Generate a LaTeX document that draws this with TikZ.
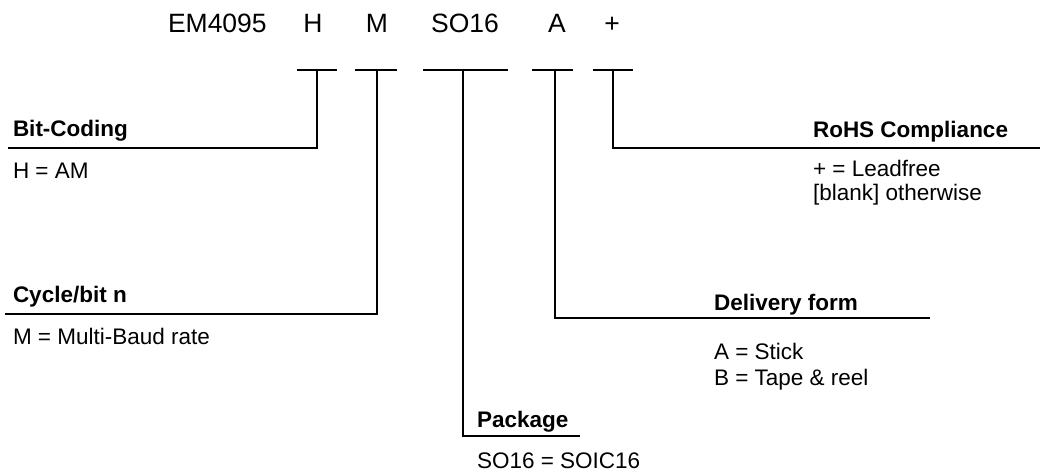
\documentclass[tikz,border=0pt]{standalone}
\usepackage{fontspec}
\setmainfont{Liberation Sans}
\usepackage{tikz}
\newcommand{\tx}        {\fontsize{22.5}{26}\selectfont}
\newcommand{\hd}        {\fontsize{26.5}{30}\selectfont}

\begin{document}
\begin{tikzpicture}[x=1pt,y=-1pt,line width=2pt,every node/.style={inner sep=0pt}]
     \useasboundingbox (0,0) rectangle (1057,474);
     % part number
     \draw(167,32) node[anchor=base west](em){\hd EM4095};
     \draw(313,32) node[anchor=base](ph){\hd H};
     \draw(377,32) node[anchor=base](pm){\hd M};
     \draw(465,32) node[anchor=base](pso){\hd SO16};
     \draw(557,32) node[anchor=base](pa){\hd A};
     \draw(612,32) node[anchor=base](pp){\hd +};
     % tee bars
     \coordinate (hb) at (317,70);
     \coordinate (mb) at (377,70);
     \coordinate (sb) at (463,70);
     \coordinate (ab) at (555,70);
     \coordinate (pb) at (613,70);
     \draw (297,70) -- (337,70);
     \draw (355,70) -- (397,70);
     \draw (423,70) -- (508,70);
     \draw (532,70) -- (573,70);
     \draw (593,70) -- (633,70);
     % label lines
     \coordinate (hl) at (8,148);
     \coordinate (ml) at (5,314);
     \coordinate (sl) at (580,436);
     \coordinate (al) at (930,318);
     \coordinate (pl) at (1040,148);
     \draw (hb) -- (hb |- hl) -- (hl);
     \draw (mb) -- (mb |- ml) -- (ml);
     \draw (sb) -- (sb |- sl) -- (sl);
     \draw (ab) -- (ab |- al) -- (al);
     \draw (pb) -- (pb |- pl) -- (pl);
     % labels
     \draw(12,136) node[anchor=base west](bith){\tx\bfseries Bit-Coding};
     \draw(12,178) node[anchor=base west](bitv){\tx H = AM};
     \draw(12,302) node[anchor=base west](cych){\tx\bfseries Cycle/bit n};
     \draw(12,344) node[anchor=base west](cycv){\tx M = Multi-Baud rate};
     \draw(476,427) node[anchor=base west](pkgh){\tx\bfseries Package};
     \draw(476,468) node[anchor=base west](pkgv){\tx SO16 = SOIC16};
     \draw(713,310) node[anchor=base west](delh){\tx\bfseries Delivery form};
     \draw(713,359) node[anchor=base west](dela){\tx A = Stick};
     \draw(713,385) node[anchor=base west](delb){\tx B = Tape \& reel};
     \draw(812,137) node[anchor=base west](rohh){\tx\bfseries RoHS Compliance};
     \draw(812,176) node[anchor=base west](roha){\tx + = Leadfree};
     \draw(812,200) node[anchor=base west](rohb){\tx [blank] otherwise};
\end{tikzpicture}
\end{document}
